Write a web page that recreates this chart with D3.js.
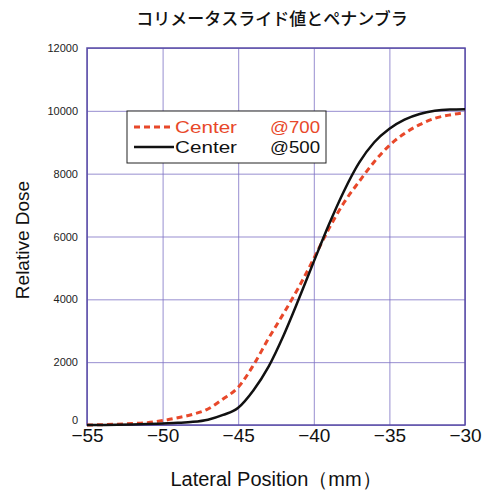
<!DOCTYPE html>
<html>
<head>
<meta charset="utf-8">
<script src="https://cdn.jsdelivr.net/npm/d3@7"></script>
<style>
  body { margin: 0; background: #fff; }
  svg { font-family: "Liberation Sans", Arial, sans-serif; }
  .grid line { stroke: #7d72c4; stroke-width: 1; opacity: 0.8; }
  .grid path { stroke-width: 0; }
  .ylab text { font-size: 11px; fill: #222; }
  .xlab text { font-size: 19px; fill: #111; }
</style>
</head>
<body>
<div id="chart"></div>
<script>
// lateral position (mm)
var positions = [-55, -54, -53, -52, -51, -50, -49, -48, -47, -46, -45, -44, -43,
  -42, -41, -40, -39, -38, -37, -36, -35, -34, -33, -32, -31, -30];
// Center @500 (solid black)
var dose500 = [0, 0, 5, 15, 30, 50, 70, 100, 170, 320, 550, 1100, 1850,
  2850, 4000, 5200, 6380, 7450, 8350, 9000, 9430, 9720, 9900, 10000, 10040, 10050];
// Center @700 (dashed red)
var dose700 = [0, 10, 25, 45, 75, 140, 230, 340, 510, 830, 1200, 1900, 2750,
  3550, 4380, 5300, 6250, 7080, 7750, 8380, 8900, 9280, 9560, 9760, 9870, 9940];
var xTicks = [-55, -50, -45, -40, -35, -30];
var yTicks = [0, 2000, 4000, 6000, 8000, 10000, 12000];
var seriesNames = ["Center", "Center"];
var seriesTags = ["@700", "@500"];

var W = 489, H = 492;
var m = { top: 48, right: 24, bottom: 67, left: 87 },
  width = W - m.left - m.right,
  height = H - m.top - m.bottom;

var svg = d3.select("#chart").append("svg")
  .attr("width", W).attr("height", H);
svg.append("rect").attr("width", W).attr("height", H).attr("fill", "#fff");

var g = svg.append("g").attr("transform", "translate(" + m.left + "," + m.top + ")");

var x = d3.scaleLinear().domain([-55, -30]).range([0, width]);
var y = d3.scaleLinear().domain([0, 12000]).range([height, 0]);

// grid
g.append("g").attr("class", "grid")
  .attr("transform", "translate(0," + height + ")")
  .call(d3.axisBottom(x).tickValues(xTicks).tickSize(-height).tickFormat(""));
g.append("g").attr("class", "grid")
  .call(d3.axisLeft(y).tickValues(yTicks).tickSize(-width).tickFormat(""));

// frame
g.append("rect")
  .attr("width", width).attr("height", height)
  .attr("fill", "none").attr("stroke", "#5a4ca6").attr("stroke-width", 1.5);

// tick labels
var yl = g.append("g").attr("class", "ylab")
  .call(d3.axisLeft(y).tickValues(yTicks).tickSize(0).tickPadding(9).tickFormat(d3.format("d")));
yl.select(".domain").remove();
yl.selectAll(".tick").filter(function(d) { return d === 0; })
  .select("text").attr("dy", "-0.15em");

var xl = g.append("g").attr("class", "xlab")
  .attr("transform", "translate(0," + height + ")")
  .call(d3.axisBottom(x).tickValues(xTicks).tickSize(0).tickPadding(4)
    .tickFormat(function(d) { return "\u2212" + Math.abs(d); }));
xl.select(".domain").remove();

// curves
var line = d3.line().x(function(d) { return x(d[0]); }).y(function(d) { return y(d[1]); })
  .curve(d3.curveMonotoneX);

g.append("path")
  .datum(d3.zip(positions, dose700))
  .attr("fill", "none").attr("stroke", "#e8482a").attr("stroke-width", 3)
  .attr("stroke-dasharray", "6,4")
  .attr("d", line);

g.append("path")
  .datum(d3.zip(positions, dose500))
  .attr("fill", "none").attr("stroke", "#111").attr("stroke-width", 2.5)
  .attr("d", line);

// legend
var lg = svg.append("g").attr("transform", "translate(127,111)");
lg.append("rect").attr("width", 199).attr("height", 52)
  .attr("fill", "#fff").attr("stroke", "#222").attr("stroke-width", 1);
var rows = [
  { color: "#e8482a", dash: "6,4", w: 3, name: seriesNames[0], tag: seriesTags[0] },
  { color: "#111", dash: null, w: 2.5, name: seriesNames[1], tag: seriesTags[1] }
];
rows.forEach(function(r, i) {
  var yy = 16 + i * 20;
  lg.append("line").attr("x1", 7).attr("x2", 47).attr("y1", yy).attr("y2", yy)
    .attr("stroke", r.color).attr("stroke-width", r.w)
    .attr("stroke-dasharray", r.dash);
  lg.append("text").attr("x", 48).attr("y", yy + 6)
    .attr("font-size", 17).attr("fill", r.color)
    .attr("textLength", 62).attr("lengthAdjust", "spacingAndGlyphs").text(r.name);
  lg.append("text").attr("x", 143).attr("y", yy + 6)
    .attr("font-size", 17).attr("fill", r.color)
    .attr("textLength", 50).attr("lengthAdjust", "spacingAndGlyphs").text(r.tag);
});

// titles
svg.append("text").attr("x", 272).attr("y", 25).attr("text-anchor", "middle")
  .attr("font-family", "'Noto Sans CJK JP', sans-serif").attr("font-size", 17)
  .attr("font-weight", 500).attr("fill", "#111").text("コリメータスライド値とペナンブラ");

svg.append("text").attr("x", 276).attr("y", 486).attr("text-anchor", "middle")
  .attr("font-size", 20).attr("fill", "#111").text("Lateral Position（mm）");

svg.append("text")
  .attr("transform", "translate(29,240) rotate(-90)")
  .attr("text-anchor", "middle").attr("font-size", 19).attr("fill", "#111")
  .text("Relative Dose");
</script>
</body>
</html>
